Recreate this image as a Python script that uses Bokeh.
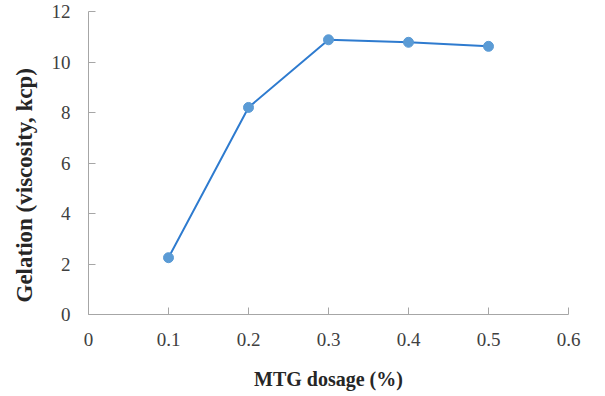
from bokeh.plotting import figure
from bokeh.models import Range1d, FixedTicker, Title
from bokeh.embed import file_html
from bokeh.resources import INLINE

# MTG dosage (%) and the resulting gel viscosity (kcp)
dosage = [0.1, 0.2, 0.3, 0.4, 0.5]
viscosity = [2.25, 8.2, 10.88, 10.78, 10.62]

x_ticks = [0, 0.1, 0.2, 0.3, 0.4, 0.5, 0.6]
x_tick_labels = ["0", "0.1", "0.2", "0.3", "0.4", "0.5", "0.6"]
y_ticks = [0, 2, 4, 6, 8, 10, 12]
y_tick_labels = ["0", "2", "4", "6", "8", "10", "12"]

x_title = "MTG dosage (%)"
y_title = "Gelation (viscosity, kcp)"

SERIF = "Liberation Serif"
AXIS_GREY = "#a6a6a6"

p = figure(
    width=605, height=396,
    x_range=Range1d(0, 0.6), y_range=Range1d(0, 12),
    output_backend="svg", toolbar_location=None,
    min_border_left=88, min_border_right=37,
    min_border_top=11, min_border_bottom=82,
)
p.outline_line_color = None
p.xgrid.visible = False
p.ygrid.visible = False

p.line(dosage, viscosity, line_color="#2e7bcf", line_width=2)
p.scatter(dosage, viscosity, size=10, fill_color="#5b9bd5", line_color="#5b9bd5")

for ax, ticks, labels in ((p.xaxis[0], x_ticks, x_tick_labels),
                          (p.yaxis[0], y_ticks, y_tick_labels)):
    ax.ticker = FixedTicker(ticks=ticks)
    ax.major_label_overrides = {t: s for t, s in zip(ticks, labels)}
    ax.minor_tick_line_color = None
    ax.axis_line_color = AXIS_GREY
    ax.major_tick_line_color = AXIS_GREY
    ax.major_tick_in = 7
    ax.major_tick_out = 0
    ax.major_label_text_font = SERIF
    ax.major_label_text_font_size = "19px"
    ax.major_label_text_color = "#404040"

p.xaxis.axis_label = x_title
p.xaxis.axis_label_text_font = SERIF
p.xaxis.axis_label_text_font_style = "bold"
p.xaxis.axis_label_text_color = "#262626"
p.xaxis.axis_label_text_font_size = "20px"
p.xaxis.major_label_standoff = 18
p.xaxis.axis_label_standoff = 19

p.yaxis.major_label_standoff = 18

# vertical title on the left, starting just above the bottom of the axis
p.add_layout(Title(
    text=y_title, align="left", offset=12, standoff=19, vertical_align="top",
    text_font=SERIF, text_font_style="bold", text_font_size="23px",
    text_color="#262626",
), "left")

open("out.html", "w").write(file_html(p, INLINE))
